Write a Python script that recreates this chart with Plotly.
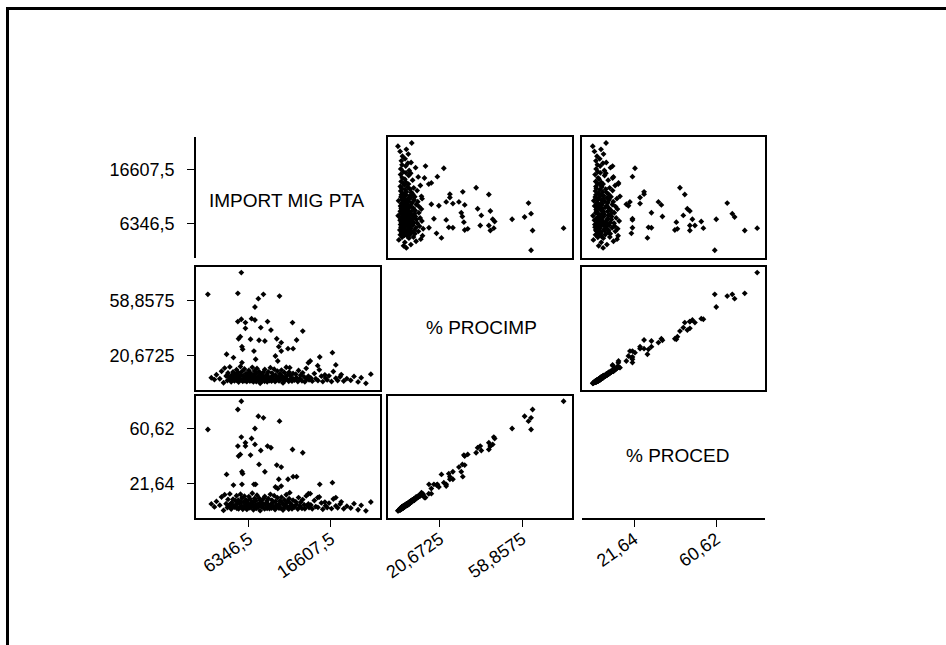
import plotly.graph_objects as go

import_mig_pta = [
    1216, 5410, 4974, 7540, 8180, 10194, 7116, 4974, 5410, 5923, 6693, 7116, 8694, 11823,
    7847, 5923, 9122, 13106, 5282, 5064, 6564, 7629, 8360, 9848, 10412, 12336, 5487, 5577,
    6988, 10104, 10412, 9681, 11258, 11900, 3563, 4423, 5487, 7206, 9976, 14042, 15235,
    16825, 11477, 14980, 17249, 13810,
    1650, 2040, 2290, 2710, 2930, 3180, 3320, 3510, 3660, 3740, 3890, 3970,
    4060, 4140, 4210, 4330, 4370, 4490, 4550, 4640, 4700, 4810, 4850, 4940, 5030, 5070,
    5160, 5210, 5300, 5340, 5450, 5490, 5590, 5650, 5740, 5800, 5870, 5980,
    6010, 6100, 6130, 6240, 6260, 6350, 6390, 6480, 6510, 6620, 6640, 6730, 6780, 6860,
    6930, 6970, 7060, 7090, 7180, 7250, 7280, 7370, 7400, 7510, 7530, 7640, 7660, 7770,
    7810, 7920,
    8030, 8060, 8170, 8210, 8320, 8350, 8460, 8500, 8610, 8650, 8760, 8790, 8900, 8940,
    9050, 9090, 9200, 9240, 9350, 9380, 9490, 9530, 9640, 9690, 9790, 9820, 9930, 9990,
    10080, 10130, 10260, 10310, 10440, 10500, 10630, 10680, 10810, 10860, 10990, 11040,
    11170, 11220, 11350, 11400, 11530, 11580, 11710, 11760, 11890, 11940,
    12060, 12230, 12320, 12490, 12580, 12750, 12840, 13010, 13100, 13280, 13370, 13540,
    13640, 13810, 13900,
    14120, 14300, 14560, 14740, 15010, 15180, 15440, 15620, 15880, 15960,
    16170, 16400, 16710, 16940, 17250, 17480, 17790, 17930,
    18240, 18630, 19120, 19530, 20040, 20430, 21020, 21640,
]

procimp = [
    63.0, 78.1, 63.7, 60.0, 63.0, 61.8, 54.2, 44.1, 45.7, 43.4, 46.1, 45.2, 44.1, 43.4,
    39.9, 39.4, 38.2, 37.5, 33.6, 32.2, 31.8, 31.1, 30.6, 32.2, 29.5, 31.3, 26.7, 24.8,
    23.6, 26.7, 23.6, 20.2, 25.3, 25.3, 21.4, 19.1, 15.6, 17.9, 16.7, 16.7, 19.5,
    22.5, 12.1, 13.5, 14.0, 15.5,
    5.1, 3.8, 7.2, 4.4, 9.6, 1.6, 11.8, 6.3, 3.1, 8.4, 5.6, 12.6,
    4.2, 2.3, 6.8, 3.5, 9.1, 5.4, 2.9, 7.6, 4.8, 10.7, 3.3, 6.1, 8.8, 2.1,
    5.7, 4.0, 12.9, 7.1, 3.7, 9.5, 2.6, 6.4, 4.6, 11.2, 3.0, 8.0,
    5.3, 2.4, 7.9, 3.9, 6.6, 10.2, 4.3, 2.8, 8.6, 5.9, 3.2, 7.3, 12.3, 4.7,
    2.2, 6.9, 9.8, 3.6, 5.0, 8.2, 2.5, 11.5, 4.1, 6.2, 3.4, 9.3, 5.5, 1.3,
    7.7, 4.5,
    3.0, 6.7, 8.9, 4.9, 2.6, 10.9, 5.8, 3.5, 7.4, 2.3, 6.0, 9.2, 4.4, 3.1,
    12.1, 5.2, 2.7, 8.3, 4.0, 6.5, 3.8, 11.0, 2.4, 7.0, 5.6, 3.3, 9.7, 4.6,
    5.4, 2.9, 7.8, 3.6, 10.4, 6.3, 1.5, 4.8, 8.7, 3.2, 5.9, 12.4,
    4.1, 7.2, 2.6, 9.0, 3.9, 6.6, 5.0, 2.8, 8.1, 4.3,
    3.4, 7.5, 5.2, 2.5, 10.1, 4.6, 6.8, 3.0, 8.5, 5.7, 2.3, 11.6,
    4.2, 6.1, 3.7,
    5.0, 2.7, 8.0, 4.4, 3.2, 10.6, 6.2, 2.4, 7.1, 4.9,
    3.6, 6.4, 2.5, 9.4, 4.8, 3.1, 5.8, 7.3,
    2.8, 4.5, 3.3, 6.0, 2.2, 5.1, 1.2, 7.6,
]

proced = [
    59.9, 80.0, 74.1, 69.3, 68.2, 65.8, 60.6, 48.1, 54.5, 50.5, 53.5, 49.3, 48.1, 45.7,
    45.0, 48.1, 46.9, 43.4, 42.2, 41.0, 41.7, 35.1, 29.9, 34.6, 33.2, 26.4, 29.9, 28.5,
    20.9, 24.5, 19.7, 19.0, 24.5, 26.4, 28.0, 20.4, 20.9, 20.9, 18.0, 14.3, 20.9,
    22.1, 15.0, 11.5, 11.5, 14.2,
    7.0, 4.9, 8.8, 6.1, 11.9, 2.4, 13.6, 7.1, 4.5, 10.2, 6.3, 14.1,
    5.6, 3.4, 8.1, 5.2, 10.4, 6.0, 4.7, 9.5, 5.9, 12.8, 3.9, 7.8, 9.6, 3.5,
    7.4, 4.8, 13.9, 8.6, 5.5, 11.3, 3.2, 8.3, 5.3, 12.5, 4.4, 9.9,
    6.9, 3.1, 9.0, 5.7, 7.4, 12.2, 5.0, 4.3, 10.5, 6.6, 4.9, 8.4, 14.6, 6.2,
    2.9, 8.8, 10.9, 5.1, 6.4, 9.3, 3.8, 13.2, 5.8, 6.9, 4.6, 11.0, 7.2, 2.2,
    9.4, 5.4,
    4.8, 7.5, 10.6, 6.7, 3.5, 12.3, 7.0, 4.2, 9.1, 3.9, 6.8, 10.8, 5.9, 3.7,
    13.8, 6.5, 4.1, 9.7, 5.3, 8.0, 4.4, 12.9, 3.0, 8.7, 6.2, 5.0, 11.4, 6.0,
    6.6, 4.0, 9.2, 4.3, 11.8, 7.9, 2.6, 6.3, 9.8, 4.5, 7.1, 13.5,
    4.9, 8.9, 3.3, 10.7, 5.6, 7.3, 6.1, 3.6, 9.6, 5.2,
    4.7, 8.6, 6.8, 3.4, 11.5, 5.5, 8.2, 3.8, 10.1, 6.4, 3.6, 12.7,
    5.8, 7.0, 4.4,
    6.2, 3.5, 9.4, 5.1, 4.6, 11.9, 7.7, 3.2, 8.3, 5.7,
    4.5, 7.6, 3.7, 10.5, 5.6, 4.3, 6.9, 8.5,
    3.6, 5.4, 4.1, 7.2, 2.9, 6.0, 2.1, 8.4,
]

var_names = ["IMPORT MIG PTA", "% PROCIMP", "% PROCED"]
tick_vals = [[6346.5, 16607.5], [20.6725, 58.8575], [21.64, 60.62]]
tick_text = [["6346,5", "16607,5"], ["20,6725", "58,8575"], ["21,64", "60,62"]]

# ---------------- layout geometry ----------------
W, H = 946, 645
col_px = [(196, 380), (388, 572), (582, 765)]
row_px = [(137, 258), (267, 390), (396, 518)]
axis_range = [[-271, 22787], [-3.42, 82.0], [-3.0, 83.7]]
label_pos = [(287, 200), (481, 327), (677, 455)]

FONT = "Liberation Sans, Arial, sans-serif"
FS = 18
series = [import_mig_pta, procimp, proced]

fig = go.Figure()
layout = dict(
    width=W, height=H, autosize=False,
    margin=dict(l=0, r=0, t=0, b=0, pad=0),
    paper_bgcolor="white", plot_bgcolor="white",
    showlegend=False,
    font=dict(family=FONT, size=FS, color="black"),
)

for r in range(3):
    for c in range(3):
        k = r * 3 + c + 1
        sfx = "" if k == 1 else str(k)
        xref, yref = "x" + sfx, "y" + sfx
        if r != c:
            fig.add_trace(go.Scatter(
                x=series[c], y=series[r], mode="markers",
                marker=dict(color="black", size=4.5, symbol="diamond"),
                xaxis=xref, yaxis=yref, hoverinfo="skip", showlegend=False))
        else:
            fig.add_trace(go.Scatter(x=[None], y=[None], mode="markers",
                                     xaxis=xref, yaxis=yref, showlegend=False))
        x0, x1 = col_px[c]
        y0, y1 = row_px[r]
        box = r != c
        show_xticks = r == 2
        show_yticks = c == 0
        xline = box or (r == 2 and c == 2)
        yline = box or (r == 0 and c == 0)
        layout["xaxis" + sfx] = dict(
            domain=[x0 / W, x1 / W], range=axis_range[c], anchor=yref,
            automargin=False,
            showgrid=False, zeroline=False,
            showline=xline, mirror=box, linecolor="black", linewidth=1.6,
            ticks="outside" if show_xticks else "", ticklen=7, tickwidth=1.4,
            tickcolor="black",
            tickvals=tick_vals[c] if show_xticks else [],
            ticktext=tick_text[c] if show_xticks else [],
            showticklabels=show_xticks, tickangle=-35,
            tickfont=dict(family=FONT, size=FS, color="black"),
            ticklabelstandoff=-5,
            fixedrange=True,
        )
        layout["yaxis" + sfx] = dict(
            domain=[1 - y1 / H, 1 - y0 / H], range=axis_range[r], anchor=xref,
            automargin=False,
            showgrid=False, zeroline=False,
            showline=yline, mirror=box, linecolor="black", linewidth=1.6,
            ticks="outside" if show_yticks else "", ticklen=7, tickwidth=1.4,
            tickcolor="black",
            tickvals=tick_vals[r] if show_yticks else [],
            ticktext=tick_text[r] if show_yticks else [],
            showticklabels=show_yticks,
            tickfont=dict(family=FONT, size=FS, color="black"),
            ticklabelstandoff=9,
            fixedrange=True,
        )

annotations = []
for i, name in enumerate(var_names):
    lx, ly = label_pos[i]
    annotations.append(dict(
        x=lx / W, y=1 - ly / H, xref="paper", yref="paper",
        text=name, showarrow=False, xanchor="center", yanchor="middle",
        font=dict(family=FONT, size=FS + 1, color="black")))
layout["annotations"] = annotations

# outer frame: only the left and top edges are inside the picture
layout["shapes"] = [
    dict(type="line", xref="paper", yref="paper",
         x0=7.5 / W, x1=7.5 / W, y0=1 - 8 / H, y1=0,
         line=dict(color="black", width=3)),
    dict(type="line", xref="paper", yref="paper",
         x0=6 / W, x1=1, y0=1 - 8.5 / H, y1=1 - 8.5 / H,
         line=dict(color="black", width=3)),
]

fig.update_layout(**layout)
fig.write_html("out.html")
